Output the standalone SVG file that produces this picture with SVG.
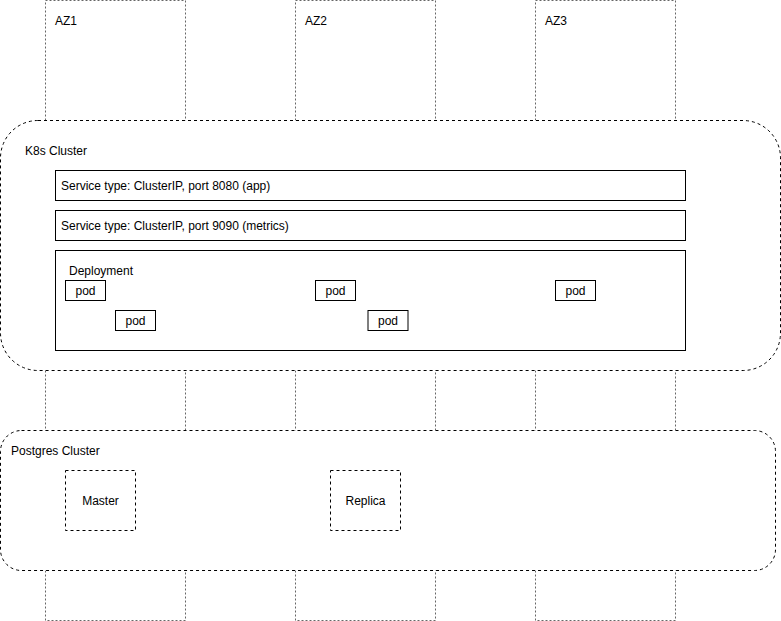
<svg xmlns="http://www.w3.org/2000/svg" width="781" height="621" viewBox="0 0 781 621">
<style>
text{font-family:"Liberation Sans",Arial,sans-serif;font-size:12px;fill:#000}
.az{fill:none;stroke:#666;stroke-dasharray:2 2}
.cl{fill:#fff;stroke:#000;stroke-dasharray:3 3}
.box{fill:#fff;stroke:#000}
.db{fill:#fff;stroke:#000;stroke-dasharray:3 3}
.c{text-anchor:middle}
</style>
<rect width="781" height="621" fill="#fff"/>
<g id="az1"><rect class="az" x="45.5" y="0.5" width="140" height="620"/><text x="55" y="25">AZ1</text></g>
<g id="az2"><rect class="az" x="295.5" y="0.5" width="140" height="620"/><text x="305" y="25">AZ2</text></g>
<g id="az3"><rect class="az" x="535.5" y="0.5" width="140" height="620"/><text x="545" y="25">AZ3</text></g>
<g id="k8s"><rect class="cl" x="0.5" y="120.5" width="780" height="250" rx="37.5" ry="37.5"/><text x="25" y="155">K8s Cluster</text></g>
<g id="svc-app"><rect class="box" x="55.5" y="170.5" width="630" height="30"/><text x="61" y="190">Service type: ClusterIP, port 8080 (app)</text></g>
<g id="svc-metrics"><rect class="box" x="55.5" y="210.5" width="630" height="30"/><text x="61" y="230">Service type: ClusterIP, port 9090 (metrics)</text></g>
<g id="deployment"><rect class="box" x="55.5" y="250.5" width="630" height="100"/><text x="69" y="275">Deployment</text></g>
<g id="pod1"><rect class="box" x="65.5" y="280.5" width="40" height="20"/><text class="c" x="85.5" y="295">pod</text></g>
<g id="pod2"><rect class="box" x="115.5" y="310.5" width="40" height="20"/><text class="c" x="135.5" y="325">pod</text></g>
<g id="pod3"><rect class="box" x="315.5" y="280.5" width="40" height="20"/><text class="c" x="335.5" y="295">pod</text></g>
<g id="pod4"><rect class="box" x="368" y="310.5" width="40" height="20"/><text class="c" x="388" y="325">pod</text></g>
<g id="pod5"><rect class="box" x="555.5" y="280.5" width="40" height="20"/><text class="c" x="575.5" y="295">pod</text></g>
<g id="postgres"><rect class="cl" x="0.5" y="430.5" width="775" height="140" rx="21" ry="21"/><text x="11" y="455">Postgres Cluster</text></g>
<g id="master"><rect class="db" x="65.5" y="470.5" width="70" height="60"/><text class="c" x="100.5" y="505">Master</text></g>
<g id="replica"><rect class="db" x="330.5" y="470.5" width="70" height="60"/><text class="c" x="365.5" y="505">Replica</text></g>
<g id="connectors"></g>
</svg>
